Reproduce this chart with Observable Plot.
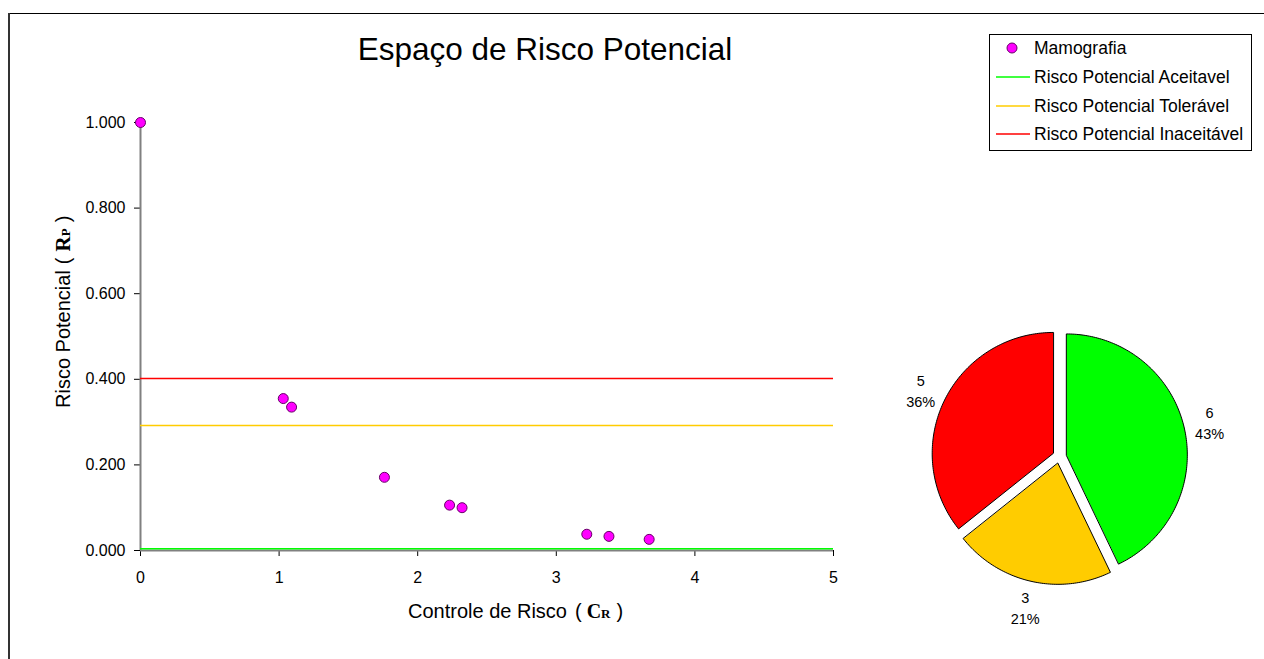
<!DOCTYPE html>
<html><head><meta charset="utf-8">
<script src="https://cdn.jsdelivr.net/npm/d3@7"></script>
<script src="https://cdn.jsdelivr.net/npm/@observablehq/plot@0.6"></script>
<style>
body{margin:0;background:#fff;font-family:"Liberation Sans",Arial,sans-serif;}
#wrap{position:relative;width:1264px;height:659px;overflow:hidden;background:#fff;}
#scatter,#pie,#overlay{position:absolute;}
#scatter{left:0;top:0;}
#pie{left:879px;top:276px;}
#overlay{left:0;top:0;pointer-events:none;}
</style>
</head><body>
<div id="wrap"><div id="scatter"></div><div id="pie"></div><svg id="overlay" width="1264" height="659"></svg></div>
<script>
// ---- data ----
const xTicks = [0, 1, 2, 3, 4, 5];
const yTicks = [0, 0.2, 0.4, 0.6, 0.8, 1.0];
const controleRisco = [0, 1.03, 1.09, 1.76, 2.23, 2.32, 3.22, 3.38, 3.67];
const riscoPotencial = [1.000, 0.355, 0.335, 0.171, 0.106, 0.100, 0.038, 0.033, 0.026];
const serieNome = "Mamografia";
const limiarNomes = ["Risco Potencial Aceitavel", "Risco Potencial Tolerável", "Risco Potencial Inaceitável"];
const limiarValores = [0.004, 0.292, 0.402];
const limiarCores = ["#00FF00", "#FFCC00", "#FF0000"];
const pieValores = [6, 3, 5];
const pieCores = ["#00FF00", "#FFCC00", "#FF0000"];
const titulo = "Espaço de Risco Potencial";

const FONT = "'Liberation Sans', Arial, sans-serif";

// ---- scatter ----
const pontos = controleRisco.map((x, i) => ({x, y: riscoPotencial[i]}));
const limiares = limiarValores.map((v, i) => ({y: v, color: limiarCores[i], name: limiarNomes[i]}));

const scatter = Plot.plot({
  width: 880, height: 659,
  marginLeft: 140, marginRight: 47, marginTop: 122, marginBottom: 109,
  style: {fontFamily: FONT, fontSize: "16px", background: "transparent", color: "#000"},
  x: {domain: [0, 5]},
  y: {domain: [0, 1]},
  color: {type: "identity"},
  marks: [
    Plot.axisX({ticks: xTicks, tickSize: 6, tickPadding: 15, fontSize: 16, tickFormat: d3.format("d"), label: null}),
    Plot.axisY({ticks: yTicks, tickSize: 6, tickPadding: 9, fontSize: 16, tickFormat: d3.format(".3f"), label: null}),
    Plot.ruleX([0], {stroke: "#808080", strokeWidth: 2}),
    Plot.ruleY([0], {stroke: "#808080", strokeWidth: 2}),
    Plot.ruleY(limiares, {y: "y", x1: 0, x2: 5, stroke: "color", strokeWidth: 1.6}),
    Plot.dot(pontos, {x: "x", y: "y", r: 5, fill: "#FF00FF", stroke: "#660066", strokeWidth: 1})
  ]
});
document.getElementById("scatter").append(scatter);

// ---- pie ----
const total = d3.sum(pieValores);
const R = 121, OFF = 7, LR = 154;
let a0 = 0;
const fatias = [], rotulos = [];
pieValores.forEach((v, i) => {
  const a1 = a0 + v / total * 2 * Math.PI;
  const mid = (a0 + a1) / 2;
  const ox = OFF * Math.sin(mid), oy = OFF * Math.cos(mid);
  const pts = [{x: ox, y: oy}];
  const n = Math.max(2, Math.ceil((a1 - a0) / (Math.PI / 180)));
  for (let k = 0; k <= n; k++) {
    const a = a0 + (a1 - a0) * k / n;
    pts.push({x: ox + R * Math.sin(a), y: oy + R * Math.cos(a)});
  }
  fatias.push({pts, color: pieCores[i]});
  rotulos.push({x: LR * Math.sin(mid), y: LR * Math.cos(mid), text: `${v}\n${Math.round(v / total * 100)}%`});
  a0 = a1;
});

const pie = Plot.plot({
  width: 360, height: 360,
  margin: 0,
  style: {fontFamily: FONT, background: "transparent", color: "#000"},
  x: {domain: [-180, 180], axis: null},
  y: {domain: [-180, 180], axis: null},
  marks: [
    ...fatias.map(f => Plot.line(f.pts, {x: "x", y: "y", fill: f.color, stroke: "#000", strokeWidth: 1, curve: "linear-closed"})),
    Plot.text(rotulos, {x: "x", y: "y", text: "text", fontSize: 14.5, lineHeight: 1.45, fill: "#000"})
  ]
});
document.getElementById("pie").append(pie);

// ---- overlay: frame, title, axis labels, legend ----
const ov = d3.select("#overlay").style("font-family", FONT);
ov.append("line").attr("x1", 8).attr("x2", 1264).attr("y1", 13.5).attr("y2", 13.5).attr("stroke", "#000").attr("stroke-width", 1);
ov.append("line").attr("x1", 9).attr("x2", 9).attr("y1", 13).attr("y2", 659).attr("stroke", "#333").attr("stroke-width", 2);

ov.append("text").attr("x", 545).attr("y", 60).attr("text-anchor", "middle").attr("font-size", 31.5).attr("fill", "#000").text(titulo);

// x label
const xl = ov.append("text").attr("x", 408).attr("y", 618).attr("font-size", 20).attr("fill", "#000");
xl.append("tspan").text("Controle de Risco");
xl.append("tspan").attr("dx", 8).text("(");
xl.append("tspan").attr("dx", 5).attr("font-family", "'Liberation Serif', serif").attr("font-weight", "bold").text("C");
xl.append("tspan").attr("font-family", "'Liberation Serif', serif").attr("font-weight", "bold").attr("font-size", 13).text("R");
xl.append("tspan").attr("dx", 6).text(")");

// y label
const yl = ov.append("text").attr("transform", "translate(70,408) rotate(-90)").attr("font-size", 20).attr("fill", "#000");
yl.append("tspan").text("Risco Potencial");
yl.append("tspan").attr("dx", 6).text("(");
yl.append("tspan").attr("dx", 6).attr("font-family", "'Liberation Serif', serif").attr("font-weight", "bold").attr("font-size", 21).text("R");
yl.append("tspan").attr("font-family", "'Liberation Serif', serif").attr("font-weight", "bold").attr("font-size", 13).text("P");
yl.append("tspan").attr("dx", 6).text(")");

// legend
const lg = ov.append("g");
lg.append("rect").attr("x", 989.5).attr("y", 34.5).attr("width", 262).attr("height", 116).attr("fill", "#fff").attr("stroke", "#000").attr("stroke-width", 1);
const rowsY = [48, 77, 106, 134];
lg.append("circle").attr("cx", 1012).attr("cy", rowsY[0]).attr("r", 5).attr("fill", "#FF00FF").attr("stroke", "#660066");
lg.append("text").attr("x", 1034).attr("y", rowsY[0] + 6).attr("font-size", 17.5).attr("fill", "#000").text(serieNome);
limiarNomes.forEach((nm, i) => {
  const y = rowsY[i + 1];
  lg.append("line").attr("x1", 996).attr("x2", 1030).attr("y1", y).attr("y2", y).attr("stroke", limiarCores[i]).attr("stroke-width", 1.6);
  lg.append("text").attr("x", 1034).attr("y", y + 6).attr("font-size", 17.5).attr("fill", "#000").text(nm);
});
</script>
</body></html>
